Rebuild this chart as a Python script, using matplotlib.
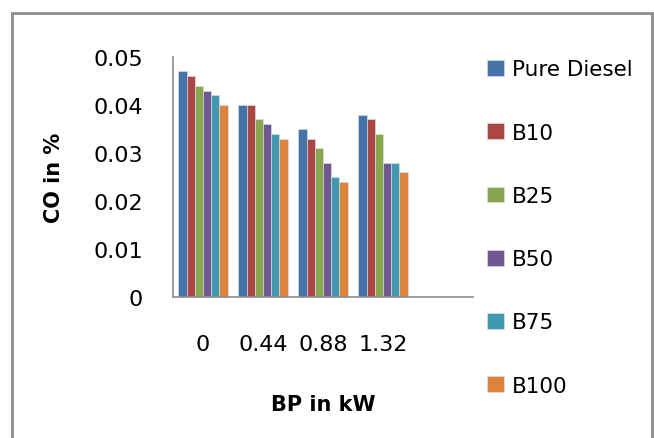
import matplotlib.pyplot as plt
import matplotlib.patches as mpatches
import numpy as np

loads = ["0", "0.44", "0.88", "1.32"]
fuels = ["Pure Diesel", "B10", "B25", "B50", "B75", "B100"]
pure_diesel = [0.047, 0.040, 0.035, 0.038]
b10 = [0.046, 0.040, 0.033, 0.037]
b25 = [0.044, 0.037, 0.031, 0.034]
b50 = [0.043, 0.036, 0.028, 0.028]
b75 = [0.042, 0.034, 0.025, 0.028]
b100 = [0.040, 0.033, 0.024, 0.026]
y_ticks = [0, 0.01, 0.02, 0.03, 0.04, 0.05]

series = [pure_diesel, b10, b25, b50, b75, b100]
colors = ["#4572A7", "#AA4643", "#89A54E", "#71588F", "#4198AF", "#DB843D"]

fig = plt.figure(figsize=(6.54, 4.39), dpi=100)
ax = fig.add_axes([173 / 654, 1 - 298 / 439, 300 / 654, 240 / 439])

x = np.arange(len(loads))
width = 0.137
for i, (vals, c) in enumerate(zip(series, colors)):
    ax.bar(x + (i - 2.5) * width, vals, width, color=c, label=fuels[i],
           edgecolor="#dde6f0", linewidth=0.4)

ax.set_xlim(-0.5, 4.5)
ax.set_ylim(0, 0.05)
ax.set_yticks(y_ticks)
ax.set_yticklabels(["0", "0.01", "0.02", "0.03", "0.04", "0.05"], fontsize=16)
ax.set_xticks(x)
ax.set_xticklabels(loads, fontsize=16)
ax.tick_params(axis="y", length=0, pad=21.5)
ax.tick_params(axis="x", length=0, pad=27)
for s in ["top", "right"]:
    ax.spines[s].set_visible(False)
for s in ["left", "bottom"]:
    ax.spines[s].set_color("#8c8c8c")
    ax.spines[s].set_linewidth(1.2)

fig.text(54 / 654, 1 - 178 / 439, "CO in %", rotation=90, ha="center", va="center",
         fontsize=15, fontweight="bold")
fig.text(323 / 654, 1 - 405 / 439, "BP in kW", ha="center", va="center",
         fontsize=15, fontweight="bold")

fig.legend(loc="upper left", bbox_to_anchor=(468 / 654, 1 - 41 / 439), frameon=False,
           fontsize=15.5, handlelength=0.75, handleheight=0.75, handletextpad=0.4,
           labelspacing=2.01)

fig.patches.append(mpatches.Rectangle((12 / 654, -0.05), 640 / 654, 1 - 14 / 439 + 0.05,
                                      transform=fig.transFigure, fill=False,
                                      edgecolor="#8c8c8c", linewidth=2))

fig.savefig("out.png", dpi=100)
